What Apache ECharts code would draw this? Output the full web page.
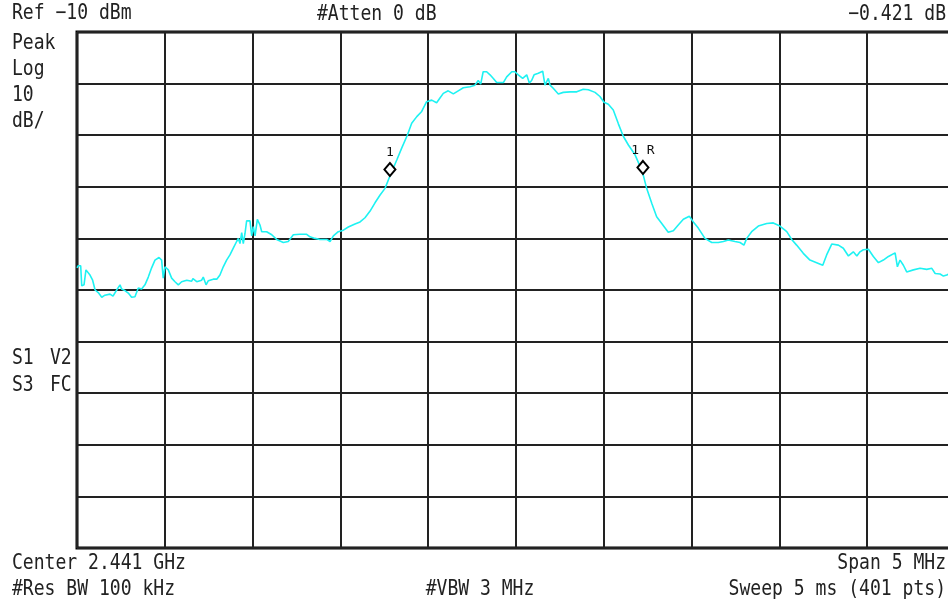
<!DOCTYPE html>
<html>
<head>
<meta charset="utf-8">
<script src="https://cdn.jsdelivr.net/npm/echarts@6/dist/echarts.min.js"></script>
<style>
  html, body { margin: 0; padding: 0; background: #fff; overflow: hidden; }
  /* the display continues a few pixels past the right window edge */
  #chart { width: 960px; height: 605px; }
</style>
</head>
<body>
<div id="chart"></div>
<script>
// Sweep trace: frequency (MHz) and level (dBm)
const traceFreq = [
  2438.500, 2438.507, 2438.521, 2438.527, 2438.540, 2438.551, 2438.574, 2438.589, 2438.603, 2438.621,
  2438.641, 2438.659, 2438.688, 2438.705, 2438.726, 2438.745, 2438.754, 2438.773, 2438.792, 2438.811,
  2438.830, 2438.849, 2438.868, 2438.887, 2438.906, 2438.925, 2438.944, 2438.967, 2438.982, 2438.991,
  2439.001, 2439.020, 2439.039, 2439.058, 2439.077, 2439.096, 2439.125, 2439.153, 2439.160, 2439.182,
  2439.210, 2439.219, 2439.235, 2439.248, 2439.276, 2439.296, 2439.314, 2439.333, 2439.352, 2439.371,
  2439.390, 2439.409, 2439.419, 2439.428, 2439.438, 2439.447, 2439.457, 2439.466, 2439.485, 2439.495,
  2439.504, 2439.514, 2439.527, 2439.542, 2439.552, 2439.580, 2439.609, 2439.637, 2439.675, 2439.703,
  2439.732, 2439.770, 2439.808, 2439.827, 2439.855, 2439.884, 2439.922, 2439.941, 2439.960, 2439.988,
  2440.017, 2440.045, 2440.083, 2440.112, 2440.140, 2440.169, 2440.197, 2440.226, 2440.254, 2440.282,
  2440.301, 2440.321, 2440.349, 2440.381, 2440.406, 2440.435, 2440.463, 2440.491, 2440.520, 2440.548,
  2440.567, 2440.586, 2440.614, 2440.643, 2440.671, 2440.700, 2440.738, 2440.766, 2440.785, 2440.799,
  2440.813, 2440.833, 2440.852, 2440.871, 2440.890, 2440.909, 2440.928, 2440.947, 2440.976, 2440.994,
  2441.013, 2441.038, 2441.061, 2441.076, 2441.089, 2441.103, 2441.127, 2441.152, 2441.165, 2441.184,
  2441.194, 2441.212, 2441.241, 2441.269, 2441.308, 2441.346, 2441.383, 2441.412, 2441.450, 2441.478,
  2441.501, 2441.526, 2441.554, 2441.583, 2441.611, 2441.640, 2441.678, 2441.706, 2441.723, 2441.744,
  2441.773, 2441.801, 2441.830, 2441.867, 2441.896, 2441.924, 2441.953, 2441.987, 2442.010, 2442.038,
  2442.076, 2442.115, 2442.152, 2442.181, 2442.209, 2442.247, 2442.276, 2442.298, 2442.314, 2442.342,
  2442.380, 2442.428, 2442.465, 2442.503, 2442.542, 2442.570, 2442.598, 2442.636, 2442.674, 2442.712,
  2442.747, 2442.769, 2442.798, 2442.836, 2442.864, 2442.893, 2442.921, 2442.941, 2442.959, 2442.978,
  2443.007, 2443.035, 2443.064, 2443.092, 2443.121, 2443.159, 2443.172, 2443.187, 2443.206, 2443.225,
  2443.263, 2443.301, 2443.339, 2443.368, 2443.387, 2443.415, 2443.434, 2443.453, 2443.477, 2443.500
];
const traceLevel = [
  -55.7, -55.3, -55.3, -59.2, -59.0, -56.1, -57.1, -58.1, -60.0, -60.5,
  -61.4, -61.0, -60.8, -61.2, -60.0, -59.0, -59.8, -60.1, -60.6, -61.4,
  -61.3, -59.6, -59.8, -59.0, -57.5, -55.7, -54.2, -53.7, -54.2, -57.7,
  -55.5, -56.1, -57.7, -58.4, -59.0, -58.4, -58.1, -58.3, -57.8, -58.4,
  -58.1, -57.5, -59.0, -58.2, -57.9, -57.9, -57.1, -55.5, -54.2, -53.2,
  -51.9, -50.6, -50.0, -51.0, -48.9, -51.0, -49.0, -46.6, -46.6, -49.5,
  -47.7, -49.5, -46.3, -47.4, -48.7, -48.7, -49.3, -50.2, -50.8, -50.6,
  -49.3, -49.2, -49.2, -49.7, -50.0, -50.2, -50.2, -50.6, -49.5, -48.7,
  -48.4, -47.8, -47.2, -46.8, -46.0, -44.7, -43.1, -41.6, -40.3, -37.9,
  -36.4, -34.8, -32.5, -30.0, -27.7, -26.4, -25.4, -23.5, -23.2, -23.7,
  -22.8, -21.9, -21.4, -22.0, -21.4, -20.8, -20.6, -20.3, -19.4, -20.1,
  -17.7, -17.7, -18.3, -19.0, -19.8, -19.8, -19.8, -18.7, -17.7, -17.7,
  -18.3, -19.0, -18.3, -19.9, -19.4, -18.3, -18.0, -17.6, -20.3, -19.0,
  -20.3, -20.9, -22.0, -21.7, -21.6, -21.6, -21.1, -21.2, -21.7, -22.5,
  -23.6, -24.0, -25.1, -27.8, -30.2, -31.9, -33.8, -36.0, -37.5, -40.3,
  -43.2, -45.8, -47.1, -48.8, -48.5, -47.4, -46.3, -45.7, -46.8, -48.0,
  -50.0, -50.8, -50.8, -50.6, -50.3, -50.6, -50.8, -51.3, -50.0, -48.7,
  -47.6, -47.1, -47.0, -47.6, -48.7, -50.2, -51.3, -52.9, -54.2, -54.7,
  -55.2, -53.2, -51.1, -51.3, -51.9, -53.4, -52.6, -53.4, -52.6, -52.2,
  -52.1, -53.5, -54.7, -54.2, -53.5, -52.8, -55.5, -54.2, -55.2, -56.5,
  -56.1, -55.8, -56.0, -55.8, -56.8, -56.9, -57.3, -57.1, -56.7, -56.9
];

// Marker positions (indices into the trace) and their labels
const markerIndex = [89, 148];
const markerName = ['1', '1 R'];

// Screen annotations
const refText = 'Ref \u221210 dBm';
const attenText = '#Atten 0 dB';
const deltaText = '\u22120.421 dB';
const scaleText = ['Peak', 'Log', '10', 'dB/'];
const modeText = [['S1', 'V2'], ['S3', 'FC']];
const centerText = 'Center 2.441 GHz';
const rbwText = '#Res BW 100 kHz';
const vbwText = '#VBW 3 MHz';
const spanText = 'Span 5 MHz';
const sweepText = 'Sweep 5 ms (401 pts)';

const FONT = '21px "DejaVu Sans Mono", monospace';
const SX = 0.86;
const RIGHT = 946;

function txt(str, x, y, align) {
  return {
    type: 'text', x: x, y: y, scaleX: SX, silent: true,
    style: { text: str, font: FONT, fill: '#222', textAlign: align || 'left', textVerticalAlign: 'middle' }
  };
}

const chart = echarts.init(document.getElementById('chart'), null, { renderer: 'canvas' });

const traceData = traceFreq.map((f, i) => [f, traceLevel[i]]);
const markerData = markerIndex.map((idx, k) => ({
  value: [traceFreq[idx], traceLevel[idx]],
  label: { formatter: markerName[k] }
}));

const graphics = [
  txt(refText, 12, 14),
  txt(attenText, 317, 15),
  txt(deltaText, RIGHT, 15, 'right'),
  txt(centerText, 12, 564),
  txt(rbwText, 12, 590),
  txt(vbwText, 480, 590, 'center'),
  txt(spanText, RIGHT, 564, 'right'),
  txt(sweepText, RIGHT, 590, 'right')
];
scaleText.forEach((s, i) => graphics.push(txt(s, 12, 44 + i * 25.7)));
modeText.forEach((pair, i) => {
  graphics.push(txt(pair[0], 12, 359 + i * 27));
  graphics.push(txt(pair[1], 50, 359 + i * 27));
});

chart.setOption({
  animation: false,
  backgroundColor: '#fff',
  grid: {
    left: 77, top: 32, width: 878, height: 516,
    show: true, borderColor: '#000', borderWidth: 3, backgroundColor: 'transparent'
  },
  xAxis: {
    type: 'value', min: 2438.5, max: 2443.5, interval: 0.5,
    axisLine: { show: false }, axisTick: { show: false }, axisLabel: { show: false },
    splitLine: { show: true, lineStyle: { color: '#222', width: 2 } }
  },
  yAxis: {
    type: 'value', min: -110, max: -10, interval: 10,
    axisLine: { show: false }, axisTick: { show: false }, axisLabel: { show: false },
    splitLine: { show: true, lineStyle: { color: '#222', width: 2 } }
  },
  series: [
    {
      type: 'line', data: traceData, showSymbol: false, smooth: false,
      lineStyle: { color: '#1ef2f2', width: 1.6 }, z: 3
    },
    {
      type: 'scatter', data: markerData, symbol: 'diamond', symbolSize: [11, 13],
      symbolOffset: [0, -6.5],
      itemStyle: { color: '#fff', borderColor: '#000', borderWidth: 2, opacity: 1 },
      label: {
        show: true, position: 'top', distance: 3,
        fontFamily: '"DejaVu Sans Mono", monospace', fontSize: 13, color: '#111'
      },
      z: 4
    }
  ],
  graphic: graphics
});
</script>
</body>
</html>
